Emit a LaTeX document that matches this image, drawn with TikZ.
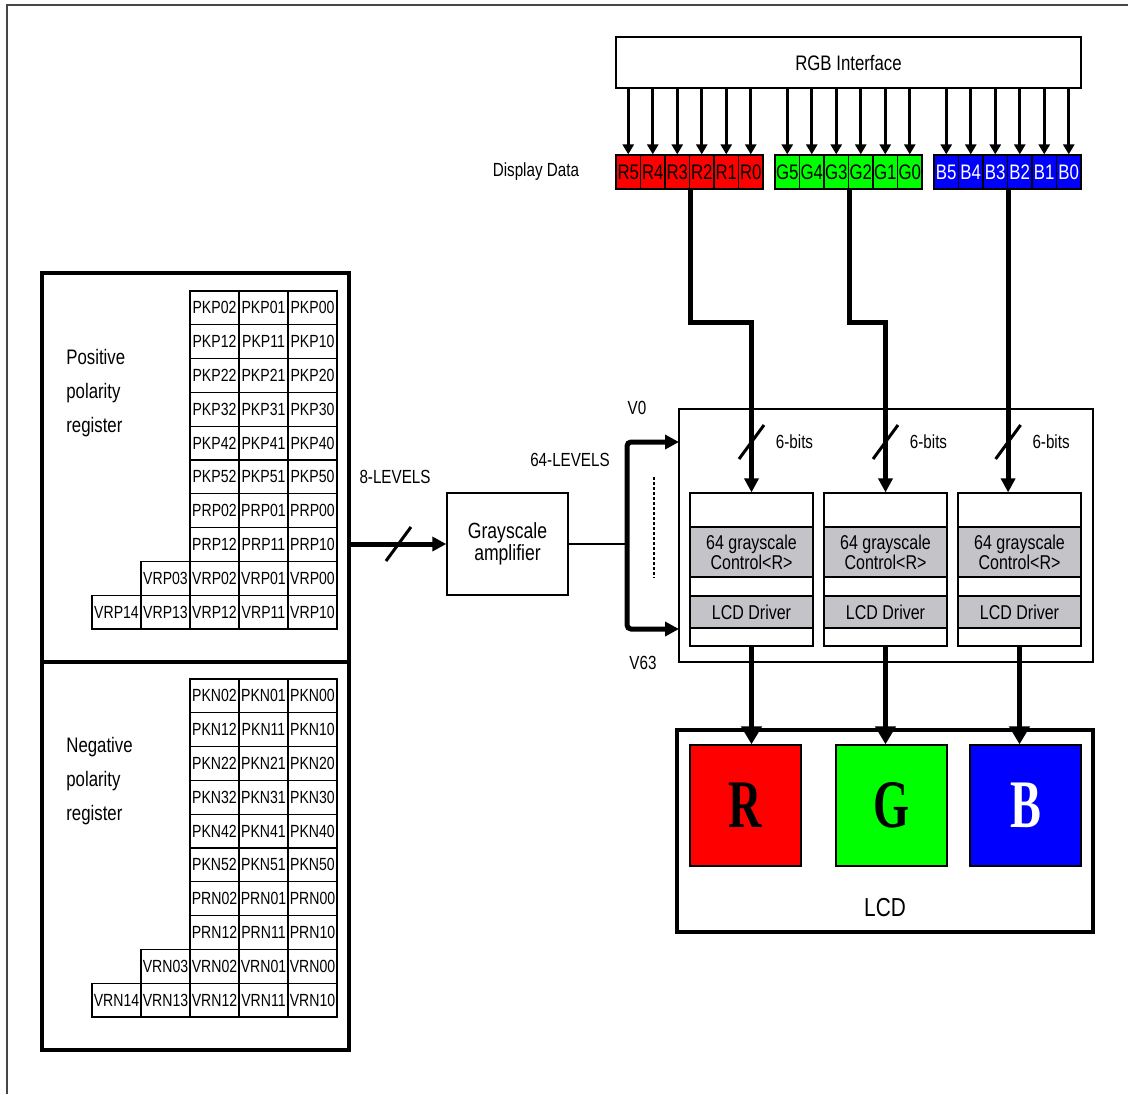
\documentclass[tikz,border=0pt]{standalone}
\usepackage{fontspec}
\setmainfont{Liberation Sans}[FakeStretch=0.8]
\newfontfamily\rgbletter{Liberation Serif}[FakeStretch=0.68]
\usetikzlibrary{arrows.meta,positioning}
\definecolor{ctlgray}{RGB}{196,196,200}
\definecolor{framegray}{RGB}{70,70,70}
\definecolor{pixgreen}{RGB}{0,255,0}
\tikzset{%
  regcell/.style  = {draw, line width=0.6pt, minimum width=24.5pt,%
                     minimum height=16.9pt, inner sep=0pt,%
                     font=\fontsize{8.8}{10}\selectfont},%
  bitcell/.style  = {draw, line width=0.6pt, minimum width=12.25pt,%
                     minimum height=17pt, inner sep=0pt,%
                     font=\fontsize{10.5}{12}\selectfont},%
  regbox/.style   = {draw, line width=1.6pt, minimum width=153.5pt},%
  plainbox/.style = {draw, line width=0.7pt, align=center},%
  ctlband/.style  = {draw, line width=0.6pt, fill=ctlgray, minimum width=61.5pt,%
                     inner sep=0pt, align=center, font=\fontsize{10}{10}\selectfont},%
  pixel/.style    = {draw, line width=0.7pt, minimum width=55.5pt, minimum height=60.5pt,%
                     font=\rgbletter\bfseries\fontsize{34}{34}\selectfont},%
  lbl/.style      = {inner sep=0pt, font=\fontsize{9.5}{11}\selectfont},%
  bus/.style      = {line width=2.5pt, -{Triangle[length=7pt,width=7pt]}},%
  wire/.style     = {line width=1.6pt, -{Triangle[length=5pt,width=5.5pt]}},%
  buscut/.pic     = {\draw[line width=1.5pt] (-12.5,17) -- (12.5,-17);}%
}
\begin{document}
\begin{tikzpicture}[x=0.5pt,y=-0.5pt]
\useasboundingbox[fill=white] (0,0) rectangle (1128,1094);
\draw[framegray, line width=1pt] (1128,5) -- (7,5) -- (7,1094);
% interface and display data
\node[plainbox, minimum width=232.5pt, minimum height=25.5pt,
      font=\fontsize{10.5}{12}\selectfont] (rgbif) at (848.5,62.5) {RGB Interface};
\foreach \col/\xs/\colr/\txt in {R/616/red/black, G/775/pixgreen/black, B/934/blue/white}
	\foreach \b [count=\k from 0] in {5,...,0} {
		\node[bitcell, fill=\colr, text=\txt] (\col\b) at ({\xs+24.5*(\k+0.5)},172) {\col\b};
		\draw[wire] (rgbif.south -| \col\b) -- (\col\b.north);
	}
\node[lbl, left=18pt of R5] (dispdata) {Display Data};
% polarity registers
\node[regbox, minimum height=194.5pt] (posreg) at (195.5,467.5) {};
\node[regbox, minimum height=194pt] (negreg) at (195.5,856) {};
\node[lbl, font=\fontsize{10.5}{17}\selectfont, align=left, anchor=west]
	(poslbl) at (66,393) {Positive\\polarity\\register};
\node[lbl, font=\fontsize{10.5}{17}\selectfont, align=left, anchor=west]
	(neglbl) at (66,781) {Negative\\polarity\\register};
\foreach \pol/\ytop in {P/291,N/679} {
	\foreach \pre [count=\r from 0] in {PK\pol0,PK\pol1,PK\pol2,PK\pol3,PK\pol4,PK\pol5,PR\pol0,PR\pol1}
		\foreach \c [count=\k from 0] in {2,1,0}
			\node[regcell] (\pre\c) at ({214.5+49*\k},{\ytop+16.9+33.8*\r}) {\pre\c};
	\foreach \c [count=\k from 0] in {3,...,0}
		\node[regcell] (VR\pol0\c) at ({165.5+49*\k},{\ytop+16.9+33.8*8}) {VR\pol0\c};
	\foreach \c [count=\k from 0] in {4,...,0}
		\node[regcell] (VR\pol1\c) at ({116.5+49*\k},{\ytop+16.9+33.8*9}) {VR\pol1\c};
}
% amplifier
\node[plainbox, minimum width=60.5pt, minimum height=51pt,
      font=\fontsize{11}{11}\selectfont] (amp) at (507.5,544) {Grayscale\\amplifier};
\draw[bus] (posreg.east |- amp.west) -- coordinate (cut8) (amp.west);
\pic at (cut8) {buscut};
\node[lbl] (lev8) at (395,477) {8-LEVELS};
% driver blocks
\node[draw, line width=0.7pt, minimum width=207pt, minimum height=126.5pt] (drv) at (886,535.5) {};
\coordinate (split) at (627,544);
\coordinate (v0) at (679,442);
\coordinate (v63) at (679,629);
\draw[line width=0.8pt] (amp.east) -- (split);
\draw[bus, rounded corners=2pt] (split) |- (v0);
\draw[bus, rounded corners=2pt] (split) |- (v63);
\draw[line width=0.6pt, dash pattern=on 1.5pt off 1pt] (654,477) -- (654,578);
\node[lbl] (lblv0) at (637,408) {V0};
\node[lbl] (lev64) at (570,460) {64-LEVELS};
\node[lbl] (lblv63) at (643,663) {V63};
\foreach \i/\xc in {1/751.5,2/885.5,3/1019.5} {
	\node[draw, line width=0.6pt, minimum width=61.5pt, minimum height=76.5pt] (blk\i) at (\xc,569.5) {};
	\node[ctlband, minimum height=25pt] (ctl\i) at (\xc,552) {64 grayscale\\Control<R>};
	\node[ctlband, minimum height=16pt] (lcddrv\i) at (\xc,612) {LCD Driver};
}
\draw[bus] (R3.south east) -- ++(0,133) -| (blk1.north);
\draw[bus] (G3.south east) -- ++(0,133) -| (blk2.north);
\draw[bus] (B3.south east) -- (B3.south east |- blk3.north);
\foreach \i/\src in {1/blk1.north,2/blk2.north,3/B3.south east} {
	\coordinate (cut\i) at (\src |- v0);
	\pic at (cut\i) {buscut};
	\node[lbl, right=12pt of cut\i] (bits\i) {6-bits};
}
% LCD panel
\node[draw, line width=1.6pt, minimum width=208pt, minimum height=101pt] (lcd) at (885,831) {};
\node[pixel, fill=red] (rsq) at (745.5,805.5) {R};
\node[pixel, fill=pixgreen] (gsq) at (891.5,805.5) {G};
\node[pixel, fill=blue, text=white] (bsq) at (1025.5,805.5) {B};
\node[font=\fontsize{13}{13}\selectfont] (lcdlbl) at (885,908) {LCD};
\foreach \i/\sq in {1/rsq,2/gsq,3/bsq}
	\draw[bus, -{Triangle[length=9pt,width=10pt]}] (blk\i.south) -- (blk\i.south |- \sq.north);
\end{tikzpicture}
\end{document}
